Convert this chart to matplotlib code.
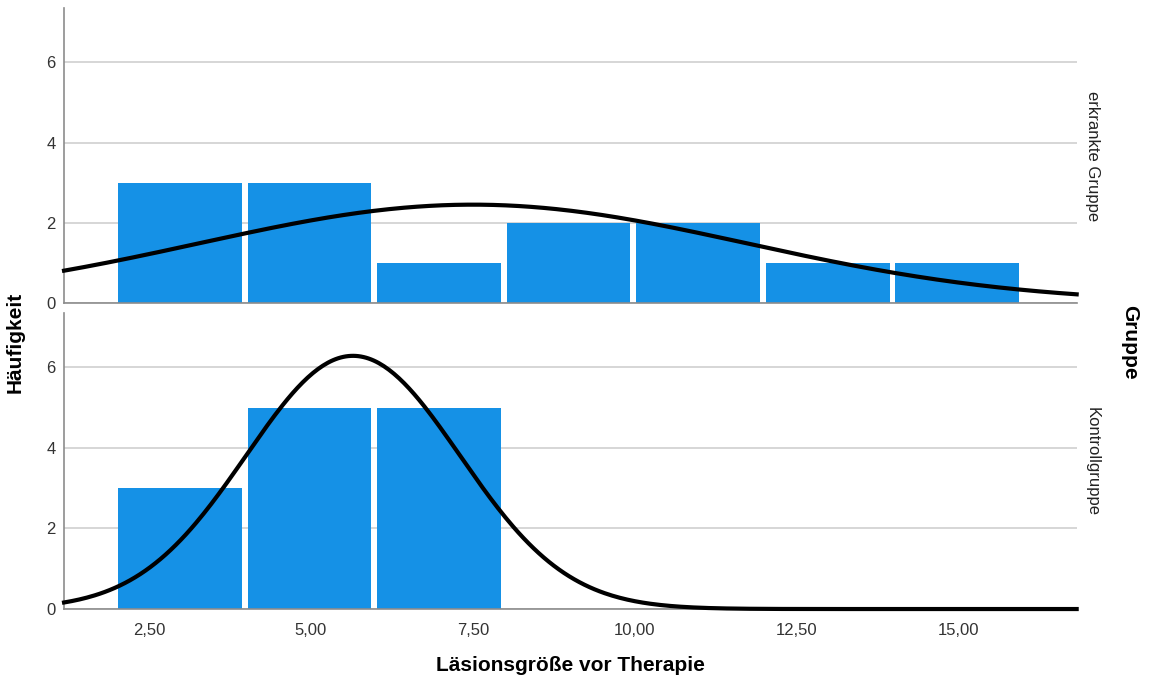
import numpy as np
import matplotlib

matplotlib.use("Agg")
import matplotlib.pyplot as plt

plt.rcParams["font.family"] = ["Liberation Sans", "DejaVu Sans"]

# Histogramm-Klassen (Breite 2) und Häufigkeiten je Gruppe
bin_edges = [2, 4, 6, 8, 10, 12, 14, 16]
groups = ["erkrankte Gruppe", "Kontrollgruppe"]
counts_krank = [3, 3, 1, 2, 2, 1, 1]
counts_kontrolle = [3, 5, 5, 0, 0, 0, 0]

# Parameter der Normalverteilungskurve je Gruppe (Mittelwert, SD, N)
norm_mean = [7.5, 5.65]
norm_sd = [4.23, 1.65]
norm_n = [13, 13]

x_ticks = [2.5, 5.0, 7.5, 10.0, 12.5, 15.0]
x_ticklabels = ["2,50", "5,00", "7,50", "10,00", "12,50", "15,00"]
y_ticks = [0, 2, 4, 6]

BAR = "#1591E6"
GRID = "#D0D0D0"
SPINE = "#8C8C8C"

fig = plt.figure(figsize=(11.52, 6.84), dpi=100)
ax_top = fig.add_axes([0.0556, 0.557, 0.879, 0.431])
ax_bot = fig.add_axes([0.0556, 0.1096, 0.879, 0.4328])

xlim = (1.19, 16.82)
xs = np.linspace(xlim[0], xlim[1], 400)
width = bin_edges[1] - bin_edges[0]
gap = 0.09  # weißer Spalt zwischen den Balken

for ax, counts, mu, sd, n, label in zip(
    [ax_top, ax_bot], [counts_krank, counts_kontrolle],
    norm_mean, norm_sd, norm_n, groups,
):
    lefts = np.array(bin_edges[:-1]) + gap / 4
    ax.bar(lefts, counts, width=width - gap, align="edge",
           color=BAR, linewidth=0, zorder=2)
    dens = n * width / (sd * np.sqrt(2 * np.pi)) * np.exp(-(xs - mu) ** 2 / (2 * sd ** 2))
    ax.plot(xs, dens, color="black", linewidth=3, zorder=3, clip_on=False)

    ax.set_xlim(*xlim)
    ax.set_ylim(0, 7.35)
    ax.set_yticks(y_ticks)
    ax.set_yticklabels([str(t) for t in y_ticks], fontsize=12, color="#333333")
    ax.grid(axis="y", color=GRID, linewidth=1.2, zorder=0)
    ax.set_axisbelow(True)
    for side in ("top", "right"):
        ax.spines[side].set_visible(False)
    for side in ("left", "bottom"):
        ax.spines[side].set_color(SPINE)
        ax.spines[side].set_linewidth(1.2)
    ax.tick_params(axis="both", length=0, pad=6)
    ax.text(1.008, 0.5, label, transform=ax.transAxes,
            rotation=-90, ha="left", va="center", fontsize=12, color="#222222")

ax_top.set_xticks(x_ticks)
ax_top.set_xticklabels([])
ax_bot.set_xticks(x_ticks)
ax_bot.set_xticklabels(x_ticklabels, fontsize=12, color="#333333")
ax_bot.tick_params(axis="x", pad=10)
ax_bot.set_xlabel("Läsionsgröße vor Therapie", fontsize=15, fontweight="bold", labelpad=13)

fig.text(0.013, 0.5, "Häufigkeit", rotation=90, ha="center", va="center",
         fontsize=15, fontweight="bold")
fig.text(0.981, 0.5, "Gruppe", rotation=-90, ha="center", va="center",
         fontsize=15, fontweight="bold")

fig.savefig("out.png", dpi=100)
plt.close(fig)
